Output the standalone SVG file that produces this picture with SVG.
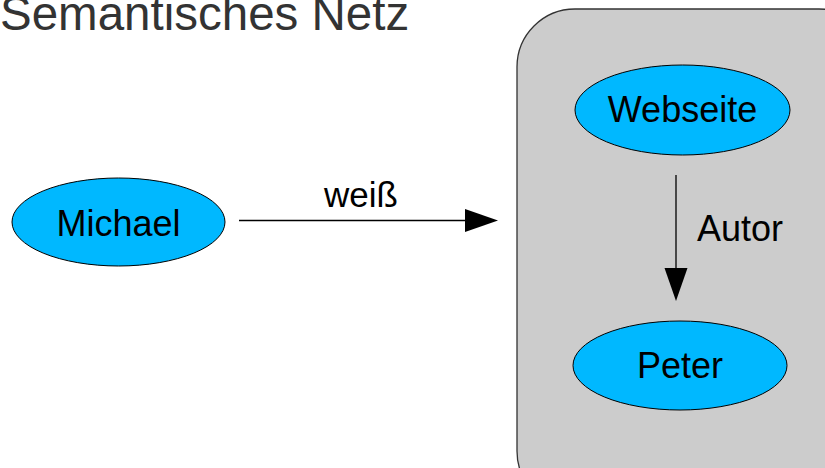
<svg xmlns="http://www.w3.org/2000/svg" width="825" height="468" viewBox="0 0 825 468">
<style>
text{font-family:"Liberation Sans",Arial,sans-serif;}
.node ellipse{fill:#00b8ff;stroke:#000;stroke-width:1;}
.lbl{font-size:36px;fill:#000;text-anchor:middle;}
.edge{stroke:#000;stroke-width:1.3;fill:none;}
</style>
<defs>
<marker id="ah" markerWidth="34" markerHeight="24" refX="0" refY="11.5" orient="auto" markerUnits="userSpaceOnUse">
<path d="M0,0 L33,11.5 L0,23 Z" fill="#000"/>
</marker>
</defs>
<text x="0" y="30" font-size="47.5" fill="#333">Semantisches Netz</text>
<g id="container">
<rect x="517" y="9" width="360" height="500" rx="58" ry="58" fill="#cccccc" stroke="#333" stroke-width="1.3"/>
</g>
<g id="connectors">
<line class="edge" x1="239" y1="220.5" x2="465" y2="220.5" marker-end="url(#ah)"/>
<text x="361" y="207" font-size="35" text-anchor="middle">weiß</text>
<line class="edge" x1="676" y1="175" x2="676" y2="268" marker-end="url(#ah)"/>
<text x="740" y="241" font-size="36" text-anchor="middle">Autor</text>
</g>
<g id="michael" class="node">
<ellipse cx="118.5" cy="222" rx="106.5" ry="44"/>
<text class="lbl" x="118.5" y="236">Michael</text>
</g>
<g id="webseite" class="node">
<ellipse cx="682.5" cy="110" rx="107.5" ry="45"/>
<text class="lbl" x="682.5" y="122">Webseite</text>
</g>
<g id="peter" class="node">
<ellipse cx="680" cy="365.5" rx="107" ry="44.5"/>
<text class="lbl" x="680" y="378">Peter</text>
</g>
</svg>
